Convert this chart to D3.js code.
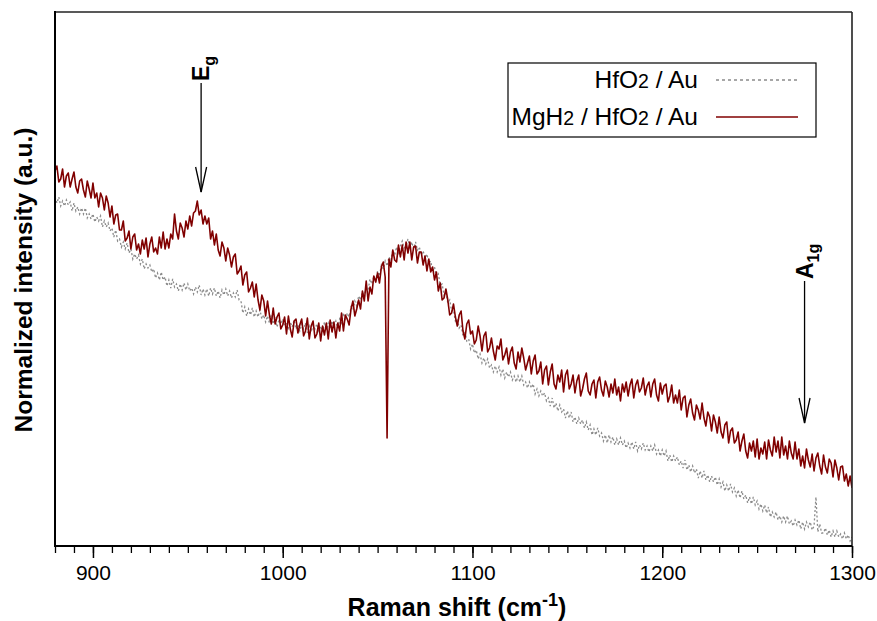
<!DOCTYPE html>
<html><head><meta charset="utf-8">
<script src="https://cdn.jsdelivr.net/npm/d3@7"></script>
<style>body{margin:0;background:#fff}svg{display:block}text{font-family:"Liberation Sans",Arial,sans-serif}</style>
</head><body>
<svg id="c" width="877" height="621"></svg>
<script>
// Raman shift sampling (cm^-1), one point per wavenumber
const shiftStart = 880, shiftEnd = 1300;
const shifts = d3.range(shiftStart, shiftEnd + 1);
const xTicksMajor = [900, 1000, 1100, 1200, 1300];
const xTicksMinor = d3.range(880, 1301, 10);
const seriesNames = ["HfO2 / Au", "MgH2 / HfO2 / Au"];
const annotations = [{label: "E", sub: "g", shift: 957}, {label: "A", sub: "1g", shift: 1275}];

// MgH2 / HfO2 / Au (arbitrary units)
const mgh2 = [
375,380,364,367,377, 359,370,373,359,367, 374,359,353,365,367, 356,349,365,357,348,
363,348,353,339,353, 348,336,350,343,329, 340,322,331,332,316, 316,325,305,308,315,
297,309,312,296,302, 292,306,297,308,289, 302,309,294,298,292, 309,298,314,297,307,
298,312,307,332,315, 307,323,318,309,325, 317,330,320,333,335, 345,331,336,322,330,
322,328,307,315,301, 312,296,290,304,298, 285,298,291,279,289, 292,272,275,280,261,
271,274,254,258,264, 249,262,246,236,251, 245,230,245,231,222, 238,222,229,233,217,
221,229,212,230,217, 209,225,227,213,221, 227,210,215,228,207, 220,225,208,212,223,
205,220,211,223,207, 226,214,224,208,223, 215,233,215,231,227, 221,237,245,230,237,
246,237,255,245,265, 245,259,252,270,264, 273,263,279,284,269, 108,287,279,296,286,
284,301,289,301,286, 304,293,304,286,299, 300,283,294,294,281, 290,275,287,274,279,
266,274,255,263,246, 248,257,246,231,233, 242,229,220,231,235, 215,207,222,226,212,
215,202,206,220,210, 195,210,214,194,198, 208,195,186,200,197, 207,186,191,198,182,
194,199,183,177,194, 184,198,188,176,183, 190,172,185,191,172, 175,184,162,176,180,
161,174,182,162,157, 171,164,176,154,171, 176,157,162,171,153, 165,171,150,157,167,
173,155,151,162,166, 148,164,169,156,150, 165,159,149,162,153, 167,151,159,145,162,
154,164,150,161,167, 148,161,166,154,158, 168,151,160,164,149, 162,167,151,145,163,
152,160,162,144,150, 161,143,151,143,156, 136,148,150,129,141, 147,133,126,141,136,
127,143,128,120,134, 129,115,131,124,113, 129,114,108,121,124, 103,115,118,103,106,
114,95,105,112,95, 88,103,95,105,89, 107,87,98,92,104, 87,106,96,90,109,
94,105,88,109,91, 100,87,105,93,87, 104,87,97,80,90, 78,97,86,79,92,
75,88,93,80,72, 91,79,73,87,83, 69,86,78,66,79, 80,65,72,60,70,
58];

// HfO2 / Au (arbitrary units)
const hfo2 = [
349,343,349,340,345, 340,346,341,344,335, 343,335,339,332,338, 332,338,328,332,327,
332,324,329,325,330, 319,325,319,323,315, 318,309,316,305,307, 299,304,297,303,293,
297,287,292,287,291, 282,287,277,282,278, 281,274,277,268,273, 266,274,266,269,260,
266,258,267,259,262, 255,262,256,263,256, 262,255,258,252,259, 254,261,251,257,251,
257,250,258,252,258, 250,255,248,256,251, 257,250,255,248,253, 249,256,246,245,233,
239,230,237,231,238, 229,235,229,236,227, 231,224,230,223,231, 222,229,219,226,222,
227,220,224,218,224, 219,226,217,221,215, 222,217,223,213,220, 214,221,217,222,215,
220,214,224,216,223, 217,225,220,225,218, 227,223,233,225,233, 229,239,236,245,240,
250,246,254,249,258, 256,267,262,270,265, 275,270,281,277,285, 280,289,285,296,291,
299,293,300,305,298, 300,307,297,304,297, 304,296,299,291,295, 288,292,283,285,275,
279,269,272,261,262, 251,254,243,246,235, 236,225,227,218,221, 210,215,205,207,197,
202,193,196,187,192, 183,188,182,187,178, 181,174,180,174,179, 171,177,168,174,169,
174,166,170,164,170, 164,170,161,164,158, 164,158,162,152,157, 150,155,150,153,145,
148,140,148,138,143, 135,141,134,137,128, 135,128,134,124,129, 122,128,122,126,118,
124,116,121,111,117, 111,118,110,113,105, 111,103,111,104,109, 101,107,101,108,101,
105,98,103,98,104, 97,104,95,101,97, 103,96,100,94,100, 95,101,92,96,90,
96,90,95,85,91, 84,90,85,89,81, 85,78,86,76,81, 74,80,73,77,68,
75,68,75,66,71, 64,70,64,69,61, 67,59,64,55,61, 55,62,54,58,50,
56,48,55,47,51, 43,49,42,49,41, 45,37,42,35,41, 33,39,29,34,29,
34,26,30,24,30, 24,30,22,25,20, 26,21,26,17,24, 17,24,19,24,16,
20,49,14,22,13, 13,18,11,16,9, 15,9,15,9,12, 7,13,7,11,5,
9];

const svg = d3.select("#c");
const L = 55, R = 852, T = 12, B = 546;
const x = d3.scaleLinear().domain([shiftStart, shiftEnd]).range([L, R]);
const y = d3.scaleLinear().domain([0, 534]).range([B, T]);

svg.append("defs").append("clipPath").attr("id", "clip")
  .append("rect").attr("x", L).attr("y", T).attr("width", R - L).attr("height", B - T);

const line = d3.line().x((d, i) => x(shifts[i])).y(d => y(d));
const g = svg.append("g").attr("clip-path", "url(#clip)");
g.append("path").datum(hfo2).attr("d", line).attr("fill", "none")
  .attr("stroke", "#8a8a8a").attr("stroke-width", 1.3).attr("stroke-dasharray", "2,2.2");
g.append("path").datum(mgh2).attr("d", line).attr("fill", "none")
  .attr("stroke", "#800000").attr("stroke-width", 1.6).attr("stroke-linejoin", "round");

// frame top/right
svg.append("line").attr("x1", L).attr("x2", R).attr("y1", T).attr("y2", T).attr("stroke", "#222").attr("stroke-width", 1.6);
svg.append("line").attr("x1", R).attr("x2", R).attr("y1", T).attr("y2", B).attr("stroke", "#222").attr("stroke-width", 1.6);

// x axis
const minorAxis = d3.axisBottom(x).tickValues(xTicksMinor).tickSize(7).tickFormat("");
const gm = svg.append("g").attr("transform", `translate(0,${B})`).call(minorAxis);
gm.select(".domain").remove();
gm.selectAll("line").attr("stroke", "#000").attr("stroke-width", 1.3);
const majorAxis = d3.axisBottom(x).tickValues(xTicksMajor).tickSize(12).tickPadding(7).tickFormat(d3.format("d"));
const gx = svg.append("g").attr("transform", `translate(0,${B})`).call(majorAxis);
gx.select(".domain").remove();
gx.selectAll("line").attr("stroke", "#000").attr("stroke-width", 1.5);
gx.selectAll("text").attr("font-size", 21).attr("fill", "#000").attr("font-family", "Liberation Sans, Arial, sans-serif").attr("dy", "0.71em");

// axis lines left/bottom
svg.append("line").attr("x1", L).attr("x2", R).attr("y1", B).attr("y2", B).attr("stroke", "#000").attr("stroke-width", 2);
svg.append("line").attr("x1", L).attr("x2", L).attr("y1", T - 1).attr("y2", B + 1).attr("stroke", "#000").attr("stroke-width", 2);

// axis titles
const xt = svg.append("text").attr("x", 457).attr("y", 616).attr("text-anchor", "middle")
  .attr("font-size", 25).attr("font-weight", "bold");
xt.append("tspan").text("Raman shift (cm");
xt.append("tspan").text("-1").attr("font-size", 18).attr("dy", -10);
xt.append("tspan").text(")").attr("dy", 10);

svg.append("text").attr("transform", "translate(32,280) rotate(-90)").attr("text-anchor", "middle")
  .attr("font-size", 24.5).attr("font-weight", "bold").text("Normalized intensity (a.u.)");

// legend
svg.append("rect").attr("x", 508).attr("y", 63).attr("width", 308).attr("height", 74)
  .attr("fill", "#fff").attr("stroke", "#000").attr("stroke-width", 1.2);
const legRows = [{name: seriesNames[0], y: 88, stroke: "#8a8a8a", dash: "3,3", w: 1.3},
                 {name: seriesNames[1], y: 125, stroke: "#800000", dash: null, w: 1.5}];
legRows.forEach(r => {
  const t = svg.append("text").attr("x", 698).attr("y", r.y).attr("text-anchor", "end").attr("font-size", 24.5);
  r.name.split(/(2)/).forEach(part => {
    if (part === "2") t.append("tspan").text("2").attr("font-size", 19.5);
    else if (part) t.append("tspan").text(part);
  });
  const ln = svg.append("line").attr("x1", 716).attr("x2", 798).attr("y1", r.y - 8).attr("y2", r.y - 8)
    .attr("stroke", r.stroke).attr("stroke-width", r.w);
  if (r.dash) ln.attr("stroke-dasharray", r.dash);
});

// annotations with arrows
const annY = [{top: 83, tip: 192}, {top: 281, tip: 423}];
annotations.forEach((a, i) => {
  const ax = x(a.shift);
  const yy = annY[i];
  svg.append("line").attr("x1", ax).attr("x2", ax).attr("y1", yy.top).attr("y2", yy.tip).attr("stroke", "#000").attr("stroke-width", 1.3);
  svg.append("path").attr("d", `M${ax - 5.5},${yy.tip - 25} L${ax},${yy.tip} L${ax + 5.5},${yy.tip - 25}`)
    .attr("fill", "none").attr("stroke", "#000").attr("stroke-width", 1.3);
  const t = svg.append("text").attr("transform", `translate(${ax + 8},${yy.top - 2}) rotate(-90)`)
    .attr("font-size", 23).attr("font-weight", "bold");
  t.append("tspan").text(a.label);
  t.append("tspan").text(a.sub).attr("font-size", 16).attr("dy", 6);
});
</script>
</body></html>
